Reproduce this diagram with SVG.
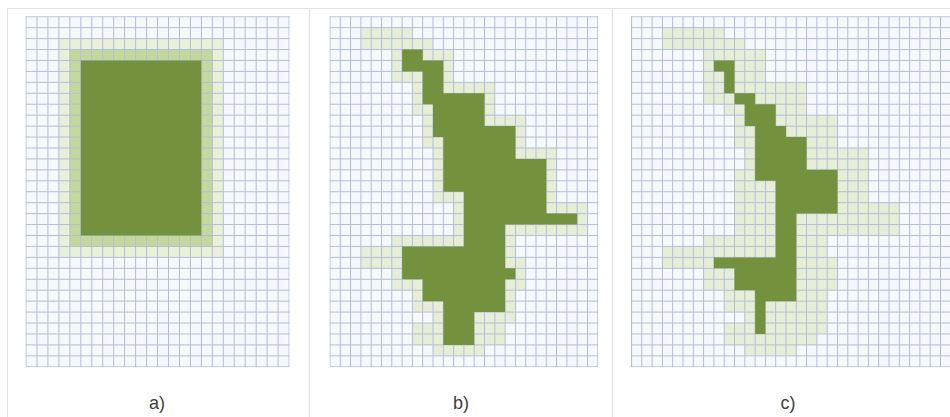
<svg xmlns="http://www.w3.org/2000/svg" width="950" height="417" viewBox="0 0 950 417">
  <style>
    .bg { fill: #f5f8fc; }
    .pale { fill: #e6eed7; }
    .pale-a { fill: #e8f0da; }
    .mid { fill: #c4d79e; }
    .dark { fill: #74923d; }
    .gridline { stroke: #b3bed4; stroke-width: 1; fill: none; }
    .frame { stroke: #e2e2e2; stroke-width: 1; fill: none; }
    .label { font-family: "Liberation Sans", Arial, sans-serif; font-size: 18px; fill: #404040; text-anchor: middle; }
  </style>
  <defs>
    <pattern id="gridA" patternUnits="userSpaceOnUse" x="25.5" y="16.2" width="10.96" height="10.94">
      <path class="gridline" d="M0 0.5H10.96M0.5 0V10.94"/>
    </pattern>
    <pattern id="gridB" patternUnits="userSpaceOnUse" x="329.5" y="16.2" width="10.3" height="10.94">
      <path class="gridline" d="M0 0.5H10.3M0.5 0V10.94"/>
    </pattern>
    <pattern id="gridC" patternUnits="userSpaceOnUse" x="631" y="16.2" width="10.3" height="10.94">
      <path class="gridline" d="M0 0.5H10.3M0.5 0V10.94"/>
    </pattern>
  </defs>

  <rect width="950" height="417" fill="#ffffff"/>

  <g id="frame">
    <path class="frame" d="M7 8.5H950M7.5 8.5V417M309.5 8.5V417M612.5 8.5V417"/>
  </g>

  <!-- Panel a -->
  <g id="panel-a">
    <rect class="bg" x="26" y="16.7" width="263" height="350"/>
    <g transform="translate(26 16.7) scale(10.96 10.94)">
      <rect class="pale-a" x="3" y="2" width="15" height="20"/>
      <rect class="mid" x="4" y="3" width="13" height="18"/>
    </g>
    <rect x="25.5" y="16.2" width="264.04" height="351.08" fill="url(#gridA)"/>
    <g transform="translate(26 16.7) scale(10.96 10.94)">
      <rect class="dark" x="5" y="4" width="11" height="16"/>
    </g>
    <text class="label" x="157" y="409">a)</text>
  </g>

  <!-- Panel b -->
  <g id="panel-b">
    <rect class="bg" x="330" y="16.7" width="267.8" height="350"/>
    <g transform="translate(330 16.7) scale(10.3 10.94)">
      <path class="pale" d="M6 2h4v3h-4zM6 3h6v3h-6zM8 4h4v4h-4zM8 6h8v3h-8zM9 7h7v4h-7zM9 9h10v3h-10zM10 10h9v4h-9zM10 12h12v5h-12zM12 15h10v4h-10zM12 17h13v3h-13zM12 18h6v4h-6zM6 20h12v4h-12zM6 22h13v3h-13zM8 23h10v4h-10zM10 25h8v3h-8zM10 26h5v5h-5zM3 1h5v2h-5zM3 21h4v2h-4zM14 28h3v2h-3zM8 28h3v2h-3z"/>
    </g>
    <rect x="329.5" y="16.2" width="268.8" height="351.08" fill="url(#gridB)"/>
    <g transform="translate(330 16.7) scale(10.3 10.94)">
      <path class="dark" d="M7 3H9V4H11V7H15V10H18V13H21V18H24V19H17V23H18V24H17V27H14V30H11V26H9V24H7V21H13V16H11V11H10V8H9V5H7Z"/>
    </g>
    <text class="label" x="461" y="409">b)</text>
  </g>

  <!-- Panel c -->
  <g id="panel-c">
    <rect class="bg" x="631.5" y="16.7" width="318.5" height="350"/>
    <g transform="translate(631.5 16.7) scale(10.3 10.94)">
      <path class="pale" d="M7 2h4v3h-4zM7 3h6v3h-6zM9 4h4v4h-4zM9 6h8v3h-8zM10 7h7v4h-7zM10 9h10v3h-10zM11 10h9v4h-9zM11 12h12v5h-12zM13 15h10v4h-10zM13 17h13v3h-13zM13 18h6v4h-6zM7 20h12v4h-12zM7 22h13v3h-13zM9 23h10v4h-10zM11 25h8v3h-8zM11 26h5v5h-5zM3 1h6v2h-6zM3 21h5v2h-5zM15 28h3v2h-3zM9 28h3v2h-3zM7 3h4v5h-4zM13 10h6v5h-6zM10 14h4v8h-4zM16 18h3v11h-3z"/>
    </g>
    <rect x="631" y="16.2" width="319" height="351.08" fill="url(#gridC)"/>
    <g transform="translate(631.5 16.7) scale(10.3 10.94)">
      <path class="dark" d="M8 4H10V7H9V5H8ZM10 7H12V8H14V10H15V11H17V14H20V18H16V26H13V29H12V25H10V23H8V22H14V15H12V10H11V8H10Z"/>
    </g>
    <text class="label" x="788" y="409">c)</text>
  </g>
</svg>
